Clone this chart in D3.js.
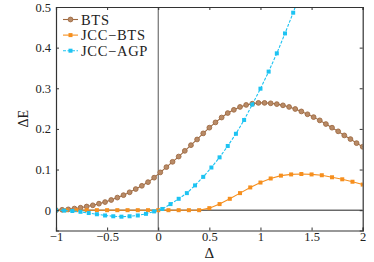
<!DOCTYPE html>
<html>
<head>
<meta charset="utf-8">
<script src="https://cdn.jsdelivr.net/npm/d3@7"></script>
<style>
  body { margin: 0; background: #fff; }
  svg { display: block; }
</style>
</head>
<body>
<svg id="chart" width="374" height="262"></svg>
<script>
var width = 374;
var height = 262;
var margin = {top: 7, right: 11.3, bottom: 31.5, left: 56};

// BTS, sampled every 0.06
var btsX = d3.range(51).map(function(k) { return -1 + 0.06 * k; });
var btsY = [0.000, 0.001, 0.002, 0.004, 0.006, 0.009, 0.012, 0.016, 0.020, 0.025,
            0.031, 0.037, 0.044, 0.052, 0.060, 0.069, 0.080, 0.093, 0.106, 0.119,
            0.132, 0.146, 0.160, 0.174, 0.189, 0.203, 0.216, 0.228, 0.239, 0.247,
            0.254, 0.259, 0.262, 0.264, 0.264, 0.263, 0.261, 0.258, 0.254, 0.249,
            0.243, 0.236, 0.229, 0.221, 0.212, 0.203, 0.194, 0.184, 0.175, 0.165,
            0.156];

// JCC-BTS, every 0.1
var jccBtsX = d3.range(31).map(function(k) { return -1 + 0.1 * k; });
var jccBtsY = [0, 0, 0, 0, 0, 0, 0, 0, 0, 0,
               0, 0, 0, 0, 0, 0.005, 0.015, 0.028, 0.042, 0.056,
               0.068, 0.078, 0.085, 0.088, 0.089, 0.088, 0.086, 0.081, 0.076, 0.070,
               0.063];

// JCC-AGP, every 0.08
var jccAgpX = d3.range(31).map(function(k) { return -1 + 0.08 * k; });
var jccAgpY = [0.000, -0.001, -0.002, -0.004, -0.007, -0.010, -0.013, -0.015, -0.016, -0.015,
               -0.013, -0.009, -0.003, 0.003, 0.015, 0.028, 0.042, 0.061, 0.082, 0.105,
               0.130, 0.158, 0.188, 0.222, 0.260, 0.299, 0.341, 0.386, 0.435, 0.486,
               0.540];

var xTicks = [-1, -0.5, 0, 0.5, 1, 1.5, 2];
var yTicks = [0, 0.1, 0.2, 0.3, 0.4, 0.5];

var series = [
  {name: "BTS", xs: btsX, ys: btsY, color: "#9e6a42", fill: "#b88a66", marker: "circle", dash: null},
  {name: "JCC\u2212BTS", xs: jccBtsX, ys: jccBtsY, color: "#f68f1e", fill: "#f68f1e", marker: "square", dash: null},
  {name: "JCC\u2212AGP", xs: jccAgpX, ys: jccAgpY, color: "#1dc3f2", fill: "#1dc3f2", marker: "square", dash: "3,1.5"}
];

var serif = "Liberation Serif, serif";
var svg = d3.select("#chart");

var x = d3.scaleLinear().domain([-1, 2]).range([margin.left, width - margin.right]);
var y = d3.scaleLinear().domain([-0.05, 0.5]).range([height - margin.bottom, margin.top]);

var fmt = function(d) { return d < 0 ? "\u2212" + Math.abs(d) : String(d); };

svg.append("defs").append("clipPath").attr("id", "plotClip")
  .append("rect")
  .attr("x", x(-1)).attr("y", y(0.5))
  .attr("width", x(2) - x(-1)).attr("height", y(-0.05) - y(0.5));

// zero lines
svg.append("line")
  .attr("x1", x(0)).attr("x2", x(0))
  .attr("y1", y(-0.05)).attr("y2", y(0.5))
  .attr("stroke", "#555").attr("stroke-width", 1);
svg.append("line")
  .attr("x1", x(-1)).attr("x2", x(2))
  .attr("y1", y(0)).attr("y2", y(0))
  .attr("stroke", "#222").attr("stroke-width", 1);

var plot = svg.append("g").attr("clip-path", "url(#plotClip)");

series.forEach(function(s) {
  var pts = s.xs.map(function(v, i) { return [v, s.ys[i]]; });
  var line = d3.line().x(function(d) { return x(d[0]); }).y(function(d) { return y(d[1]); });
  plot.append("path")
    .attr("d", line(pts))
    .attr("fill", "none")
    .attr("stroke", s.color)
    .attr("stroke-width", 1.1)
    .attr("stroke-dasharray", s.dash);
  if (s.marker == "circle") {
    plot.selectAll(null).data(pts).enter().append("circle")
      .attr("cx", function(d) { return x(d[0]); })
      .attr("cy", function(d) { return y(d[1]); })
      .attr("r", 2.4)
      .attr("fill", s.fill)
      .attr("stroke", s.color)
      .attr("stroke-width", 0.9);
  } else {
    plot.selectAll(null).data(pts).enter().append("rect")
      .attr("x", function(d) { return x(d[0]) - 2; })
      .attr("y", function(d) { return y(d[1]) - 2; })
      .attr("width", 4).attr("height", 4)
      .attr("fill", s.fill);
  }
});

// axes, ticks pointing inward
var axBottom = svg.append("g")
  .attr("transform", "translate(0," + y(-0.05) + ")")
  .call(d3.axisBottom(x).tickValues(xTicks).tickFormat(fmt).tickSize(-3).tickPadding(2));
var axTop = svg.append("g")
  .attr("transform", "translate(0," + y(0.5) + ")")
  .call(d3.axisTop(x).tickValues(xTicks).tickFormat("").tickSize(-3));
var axLeft = svg.append("g")
  .attr("transform", "translate(" + x(-1) + ",0)")
  .call(d3.axisLeft(y).tickValues(yTicks).tickFormat(fmt).tickSize(-3).tickPadding(5));
var axRight = svg.append("g")
  .attr("transform", "translate(" + x(2) + ",0)")
  .call(d3.axisRight(y).tickValues(yTicks).tickFormat("").tickSize(-3));

[axBottom, axTop, axLeft, axRight].forEach(function(g) {
  g.attr("font-family", serif).attr("font-size", 12.5);
  g.select(".domain").attr("stroke", "#333").attr("stroke-width", 1.2);
  g.selectAll(".tick line").attr("stroke", "#333");
  g.selectAll(".tick text").attr("fill", "#222");
});

// axis titles
svg.append("text")
  .attr("x", (x(-1) + x(2)) / 2).attr("y", 258)
  .attr("text-anchor", "middle")
  .attr("font-family", serif).attr("font-size", 15)
  .attr("fill", "#222")
  .text("\u0394");
svg.append("text")
  .attr("transform", "translate(28," + (y(0.5) + y(-0.05)) / 2 + ") rotate(-90)")
  .attr("text-anchor", "middle")
  .attr("font-family", serif).attr("font-size", 14)
  .attr("fill", "#222")
  .text("\u0394E");

// legend
var legend = svg.append("g");
series.forEach(function(s, i) {
  var ly = 19.5 + i * 15.6;
  legend.append("line")
    .attr("x1", 63).attr("x2", 78).attr("y1", ly).attr("y2", ly)
    .attr("stroke", s.color).attr("stroke-width", 1.1)
    .attr("stroke-dasharray", s.dash);
  if (s.marker == "circle") {
    legend.append("circle").attr("cx", 70.5).attr("cy", ly).attr("r", 2.4)
      .attr("fill", s.fill).attr("stroke", s.color).attr("stroke-width", 0.9);
  } else {
    legend.append("rect").attr("x", 68.5).attr("y", ly - 2).attr("width", 4).attr("height", 4)
      .attr("fill", s.fill);
  }
  legend.append("text")
    .attr("x", 81).attr("y", ly + 5)
    .attr("font-family", serif).attr("font-size", 14.5)
    .attr("letter-spacing", 0.7)
    .attr("fill", "#222")
    .text(s.name);
});
</script>
</body>
</html>
